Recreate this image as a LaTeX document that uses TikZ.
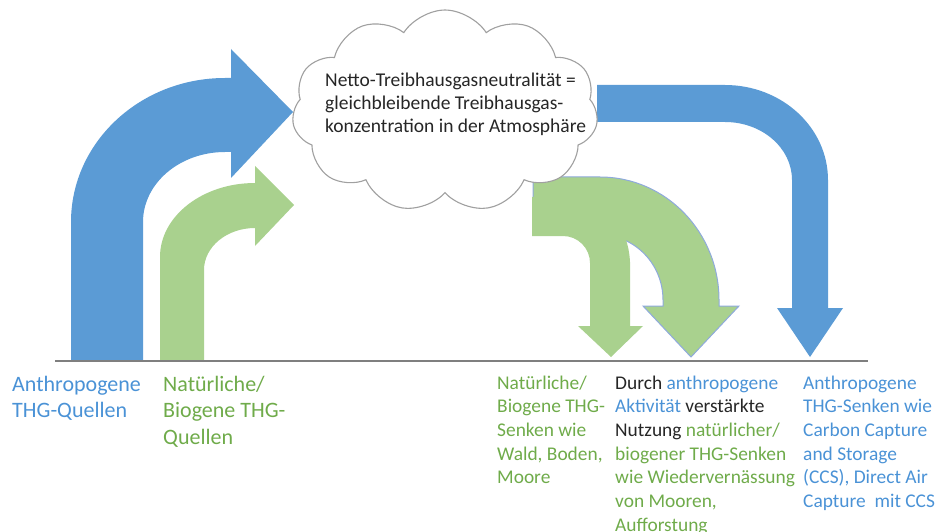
\documentclass[tikz,border=0pt]{standalone}
\usepackage{fontspec}
\setmainfont{Carlito}
\usetikzlibrary{shapes.symbols}
\definecolor{arrowblue}{HTML}{5B9BD5}
\definecolor{arrowgreen}{HTML}{A9D18E}
\definecolor{txtblue}{HTML}{4A92D6}
\definecolor{txtgreen}{HTML}{6FAB4A}
\definecolor{txtdark}{HTML}{262626}
\definecolor{edgeblue}{HTML}{8FAADC}
\definecolor{cloudgray}{HTML}{A0A0A0}
\definecolor{basegray}{HTML}{7F7F7F}
\begin{document}
\begin{tikzpicture}[x=1pt,y=1pt,
  bluearrow/.style={fill=arrowblue, draw=none},
  greenarrow/.style={fill=arrowgreen, draw=none},
  outlinedgreen/.style={fill=arrowgreen, draw=edgeblue, line width=1pt, line join=miter},
  labelbig/.style={anchor=base west, inner sep=0pt, font=\fontsize{22}{26.7}\selectfont},
  labelsmall/.style={anchor=base west, inner sep=0pt, font=\fontsize{19.4}{23.7}\selectfont},
  cloudtxt/.style={anchor=base west, inner sep=0pt, text=txtdark, font=\fontsize{19.5}{23}\selectfont},
]
\useasboundingbox (0,0) rectangle (939,531);

% left blue arrow (anthropogenic sources)
\path[bluearrow] (71,171) -- (71,309)
  arc[start angle=180, end angle=90, x radius=154, y radius=144]
  -- (231,453) -- (231,482) -- (293,419) -- (231,353) -- (231,379) -- (225,379)
  arc[start angle=90, end angle=180, x radius=82, y radius=70]
  -- (143,171) -- cycle;

% left green arrow (natural sources)
\path[greenarrow] (160,171) -- (160,274)
  arc[start angle=180, end angle=90, x radius=95, y radius=74]
  -- (255,365) -- (294,326) -- (255,285) -- (255,303)
  arc[start angle=90, end angle=180, x radius=51, y radius=42]
  -- (204,171) -- cycle;

% right blue arrow (anthropogenic sinks)
\path[bluearrow] (597,446) -- (725,446)
  arc[start angle=90, end angle=0, x radius=103, y radius=95]
  -- (828,223) -- (843,223) -- (810,174) -- (777,223) -- (792,223) -- (792,351)
  arc[start angle=0, end angle=90, x radius=67, y radius=58]
  -- (597,409) -- cycle;

% big green arrow (enhanced natural sinks)
\path[outlinedgreen] (533,354) -- (600,354)
  arc[start angle=90, end angle=0, x radius=119, y radius=123]
  -- (719,225) -- (739,225) -- (691,174) -- (643,225) -- (663,225) -- (663,231)
  arc[start angle=0, end angle=90, x radius=63, y radius=65]
  -- (533,296) -- cycle;

% small green arrow (natural sinks)
\path[greenarrow] (532,334) -- (572,334)
  .. controls (600,334) and (628,310) .. (630,269)
  -- (630,205) -- (643,205) -- (611,174) -- (578,205) -- (590,205) -- (590,268)
  arc[start angle=0, end angle=90, radius=27]
  -- (532,295) -- cycle;

% cloud
\node[cloud, cloud puffs=11, cloud puff arc=115, aspect=1.55,
      minimum width=306pt, minimum height=202pt,
      draw=cloudgray, line width=1.1pt, fill=white, inner sep=0pt] (cloud) at (445,420) {};
\node[cloudtxt] (cloudtext) at (325,444) {\begin{tabular}[t]{@{}l@{}}Netto-Treibhausgasneutralit\"at =\\gleichbleibende Treibhausgas-\\konzentration in der Atmosph\"are\end{tabular}};

% baseline
\draw[basegray, line width=2pt] (55,170.5) coordinate (bl) -- (868,170.5) coordinate (br);

% labels
\node[labelbig, text=txtblue] (lab1) at (12,140) {\begin{tabular}[t]{@{}l@{}}Anthropogene\\THG-Quellen\end{tabular}};
\node[labelbig, text=txtgreen] (lab2) at (163,140) {\begin{tabular}[t]{@{}l@{}}Nat\"urliche/\\Biogene THG-\\Quellen\end{tabular}};
\node[labelsmall, text=txtgreen] (lab3) at (497,142) {\begin{tabular}[t]{@{}l@{}}Nat\"urliche/\\Biogene THG-\\Senken wie\\Wald, Boden,\\Moore\end{tabular}};
\node[labelsmall, text=txtdark] (lab4) at (615,142) {\begin{tabular}[t]{@{}l@{}}Durch \textcolor{txtblue}{anthropogene}\\\textcolor{txtblue}{Aktivit\"at} verst\"arkte\\Nutzung \textcolor{txtgreen}{nat\"urlicher/}\\\textcolor{txtgreen}{biogener THG-Senken}\\\textcolor{txtgreen}{wie Wiedervern\"assung}\\\textcolor{txtgreen}{von Mooren,}\\\textcolor{txtgreen}{Aufforstung}\end{tabular}};
\node[labelsmall, text=txtblue] (lab5) at (803,142) {\begin{tabular}[t]{@{}l@{}}Anthropogene\\THG-Senken wie\\Carbon Capture\\and Storage\\(CCS), Direct Air\\Capture~ mit CCS\end{tabular}};
\end{tikzpicture}
\end{document}
